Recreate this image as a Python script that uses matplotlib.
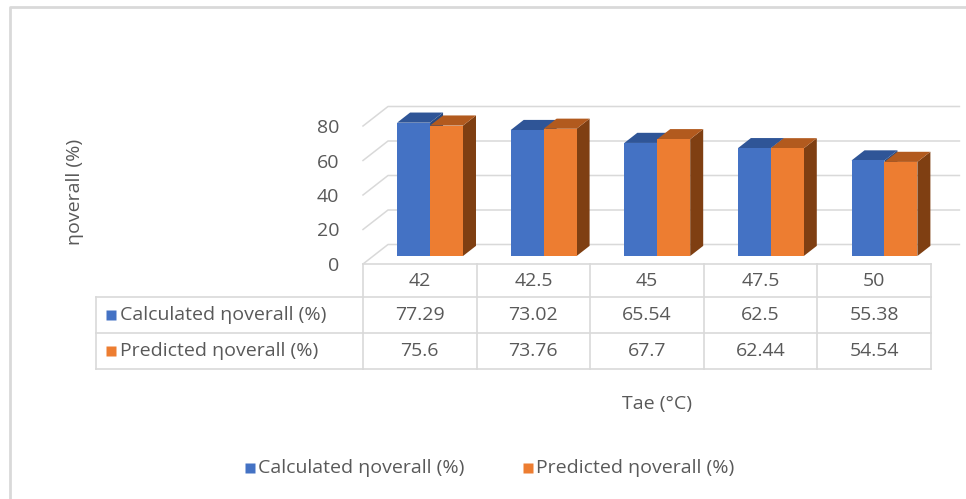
import matplotlib.pyplot as plt
from matplotlib.patches import Polygon
from matplotlib.transforms import blended_transform_factory

plt.rcParams['font.family'] = ['Open Sans', 'DejaVu Sans']

temps = ['42', '42.5', '45', '47.5', '50']
calculated = [77.29, 73.02, 65.54, 62.5, 55.38]
predicted = [75.6, 73.76, 67.7, 62.44, 54.54]
series_names = ['Calculated ηoverall (%)', 'Predicted ηoverall (%)']
y_ticks = [0, 20, 40, 60, 80]

front_colors = ['#4472c4', '#ed7d31']
top_colors = ['#2f5597', '#b25a1e']
side_colors = ['#2a4a80', '#7f3f12']
grid_col = '#d9d9d9'
text_col = '#595959'
fs = 14

W, H = 966, 499
fig = plt.figure(figsize=(W / 100, H / 100), dpi=100)

# pixel canvas for the table, titles, legend and frame
canvas = fig.add_axes([0, 0, 1, 1])
canvas.set_xlim(0, W)
canvas.set_ylim(H, 0)
canvas.axis('off')

# front plane of the 3d box
x0, x1 = 363, 931
y_zero, y_top = 264, 126
n = len(temps)
ax = fig.add_axes([x0 / W, (H - y_zero) / H, (x1 - x0) / W, (y_zero - y_top) / H])
ax.set_xlim(0, n)
ax.set_ylim(0, 80)
ax.patch.set_visible(False)
for s in ax.spines.values():
    s.set_visible(False)
ax.set_xticks([])
ax.set_yticks(y_ticks)
ax.tick_params(axis='y', length=0, pad=17, labelsize=fs, labelcolor=text_col)

# depth of the box in data units
cat_px = (x1 - x0) / n
unit_px = (y_zero - y_top) / 80
ddx = 25 / cat_px
ddy = 19.5 / unit_px

# walls: gridlines run along the left wall and across the back
for v in y_ticks:
    ax.plot([0, ddx, n + ddx + 0.03], [v, v + ddy, v + ddy], color=grid_col, lw=1.1,
            clip_on=False, zorder=1)

bw = 0.29
f0, fd = 0.41, 0.52
for i in range(n):
    cx = i + 0.5
    for k, vals in enumerate([calculated, predicted]):
        v = vals[i]
        left = cx - bw + k * bw + f0 * ddx
        base = f0 * ddy
        ox, oy = fd * ddx, fd * ddy
        side = Polygon([(left + bw, base), (left + bw, base + v),
                        (left + bw + ox, base + v + oy), (left + bw + ox, base + oy)],
                       closed=True, fc=side_colors[k], ec='none', clip_on=False, zorder=2)
        top = Polygon([(left, base + v), (left + bw, base + v),
                       (left + bw + ox, base + v + oy), (left + ox, base + v + oy)],
                      closed=True, fc=top_colors[k], ec='none', clip_on=False, zorder=2)
        ax.add_patch(side)
        ax.add_patch(top)
        ax.bar(left, v, width=bw, bottom=base, align='edge', color=front_colors[k],
               clip_on=False, zorder=2)

# data table under the plot
tr = blended_transform_factory(ax.transData, canvas.transData)
tab_left = 96
row_y = [264, 297, 333, 369]
ax.plot([0, n], [row_y[0], row_y[0]], transform=tr, color=grid_col, lw=1.2, clip_on=False)
for y in row_y[1:]:
    ax.plot([0, n], [y, y], transform=tr, color=grid_col, lw=1.2, clip_on=False)
    canvas.plot([tab_left, x0], [y, y], color=grid_col, lw=1.2)
for i in range(n + 1):
    ax.plot([i, i], [row_y[0], row_y[-1]], transform=tr, color=grid_col, lw=1.2,
            clip_on=False)
canvas.plot([tab_left, tab_left], [row_y[1], row_y[-1]], color=grid_col, lw=1.2)

for i in range(n):
    ax.text(i + 0.5, (row_y[0] + row_y[1]) / 2 + 1, temps[i], transform=tr,
            ha='center', va='center', fontsize=fs, color=text_col)
    for r, vals in enumerate([calculated, predicted]):
        ax.text(i + 0.5, (row_y[r + 1] + row_y[r + 2]) / 2, f'{vals[i]:g}', transform=tr,
                ha='center', va='center', fontsize=fs, color=text_col)

for r in range(2):
    yc = (row_y[r + 1] + row_y[r + 2]) / 2
    canvas.plot(111, yc, marker='s', ms=6.5, color=front_colors[r], mec='none')
    canvas.text(120, yc, series_names[r], ha='left', va='center', fontsize=fs,
                color=text_col)

# axis titles
canvas.text(75, 192, 'ηoverall (%)', rotation=90, ha='center', va='center',
            fontsize=fs, color=text_col)
canvas.text(657, 404, 'Tae (°C)', ha='center', va='center', fontsize=fs, color=text_col)

# legend
for k, lx in enumerate([250, 528]):
    canvas.plot(lx, 468, marker='s', ms=7, color=front_colors[k], mec='none')
    canvas.text(lx + 8, 468, series_names[k], ha='left', va='center', fontsize=fs,
                color=text_col)

# chart frame
canvas.plot([10, 10, W], [H, 7, 7], color='#d9d9d9', lw=2)

fig.savefig('out.png', dpi=100)
